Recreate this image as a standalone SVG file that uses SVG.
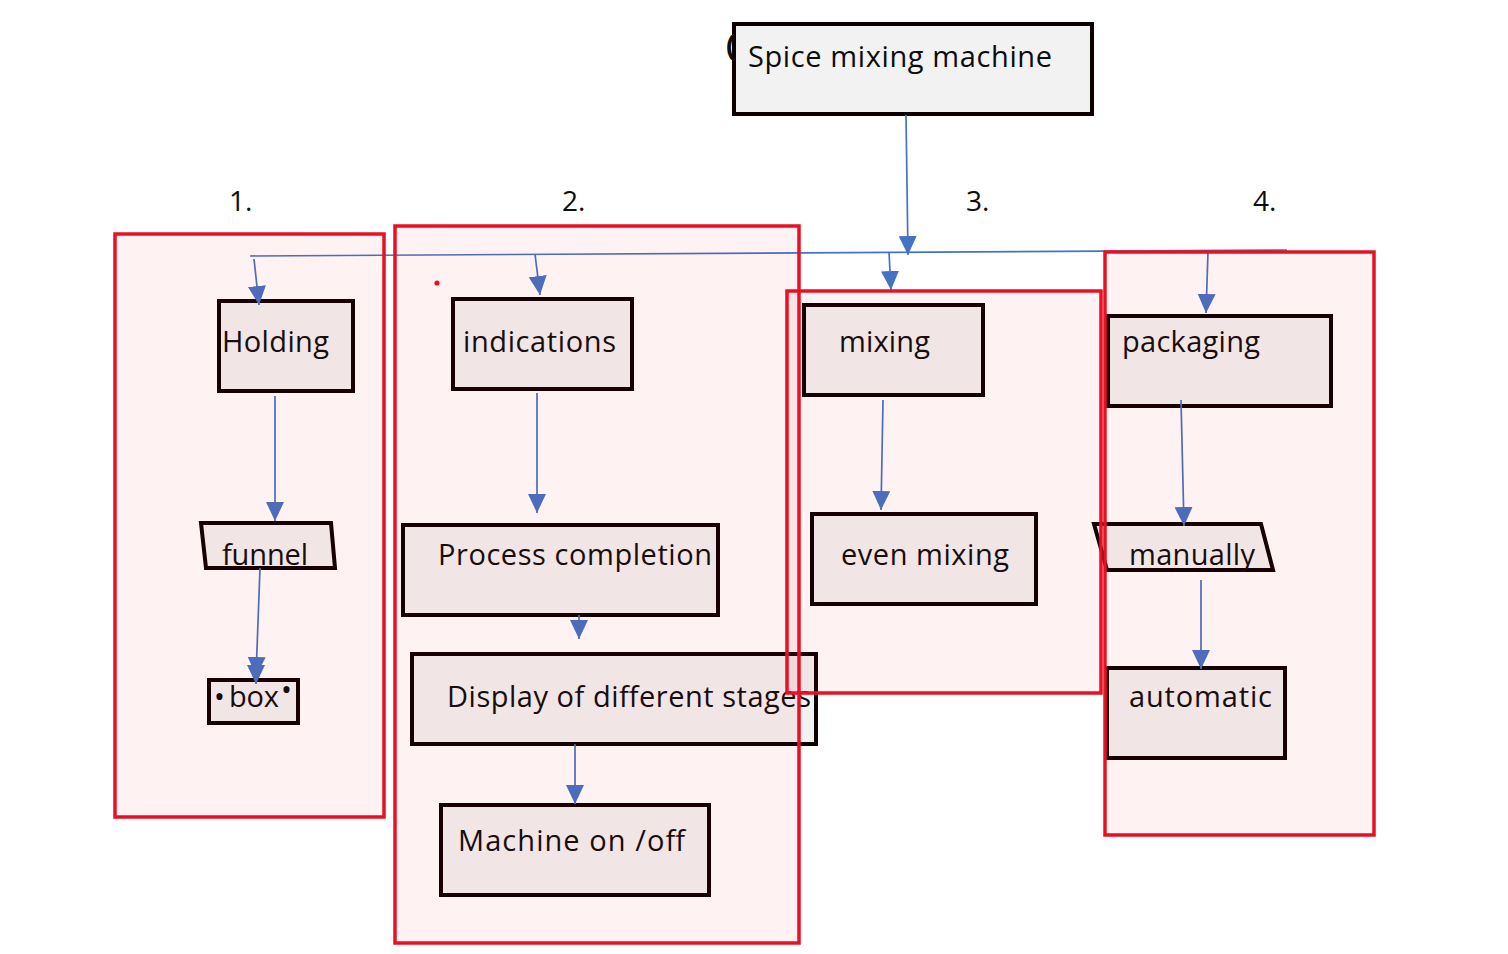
<svg xmlns="http://www.w3.org/2000/svg" width="1508" height="954" viewBox="0 0 1508 954">
<defs>
<style>
.node{fill:#f2f2f2;stroke:#0c0000;stroke-width:4}
.t{font-family:"Open Sans","Noto Sans","Liberation Sans",sans-serif;font-size:29px;fill:#0d0d0d}
.num{font-family:"Open Sans","Noto Sans","Liberation Sans",sans-serif;font-size:28px;fill:#0d0d0d}
.c{fill:none;stroke:#4472c4;stroke-width:1.7}
.frame{fill:#e81123;fill-opacity:0.055;stroke:#e81123;stroke-width:3.5}
</style>
<marker id="ah" markerUnits="userSpaceOnUse" markerWidth="20" markerHeight="20" refX="19" refY="9" orient="auto">
<path d="M0,0 L19,9 L0,18 z" fill="#4472c4"/>
</marker>
</defs>
<rect width="1508" height="954" fill="#ffffff"/>

<g id="labels">
<text class="num" x="229" y="211">1.</text>
<text class="num" x="562" y="211">2.</text>
<text class="num" x="966" y="211">3.</text>
<text class="num" x="1253" y="211">4.</text>
</g>

<g id="spice">
<text class="t" x="726" y="56" font-size="30" font-weight="bold">(</text>
<rect class="node" x="734" y="24" width="358" height="90"/>
<text class="t" x="748" y="67" font-size="30" textLength="304">Spice mixing machine</text>
</g>

<g id="holding">
<rect class="node" x="219" y="301" width="134" height="90"/>
<text class="t" x="222" y="352" textLength="107">Holding</text>
</g>
<g id="funnel">
<polygon class="node" points="201,523 331,523 335,568 206,568"/>
<text class="t" x="222" y="565" textLength="86">funnel</text>
</g>
<g id="box">
<rect class="node" x="209" y="680" width="89" height="43"/>
<text class="t" x="214" y="707">•</text>
<text class="t" x="229" y="707" textLength="50">box</text>
<text class="t" x="281" y="700">•</text>
</g>

<g id="indications">
<rect class="node" x="453" y="299" width="179" height="90"/>
<text class="t" x="463" y="352" textLength="153">indications</text>
</g>
<g id="process">
<rect class="node" x="403" y="525" width="315" height="90"/>
<text class="t" x="438" y="565" textLength="274">Process completion</text>
</g>
<g id="display">
<rect class="node" x="412" y="654" width="404" height="90"/>
<text class="t" x="447" y="707" textLength="364">Display of different stages</text>
</g>
<g id="machine">
<rect class="node" x="441" y="805" width="268" height="90"/>
<text class="t" x="458" y="851" textLength="227">Machine on /off</text>
</g>

<g id="mixing">
<rect class="node" x="804" y="305" width="179" height="90"/>
<text class="t" x="839" y="352" textLength="91">mixing</text>
</g>
<g id="even">
<rect class="node" x="812" y="514" width="224" height="90"/>
<text class="t" x="841" y="565" textLength="168">even mixing</text>
</g>

<g id="packaging">
<rect class="node" x="1108" y="316" width="223" height="90"/>
<text class="t" x="1122" y="352" textLength="138">packaging</text>
</g>
<g id="manually">
<polygon class="node" points="1094,524 1261,524 1273,570 1107,570"/>
<text class="t" x="1129" y="565" textLength="126">manually</text>
</g>
<g id="automatic">
<rect class="node" x="1107" y="668" width="178" height="90"/>
<text class="t" x="1129" y="707" textLength="143">automatic</text>
</g>

<g id="connectors">
<line class="c" x1="906" y1="115" x2="908" y2="255" marker-end="url(#ah)"/>
<line class="c" x1="250" y1="256" x2="1287" y2="250"/>
<line class="c" x1="254" y1="259" x2="259" y2="305" marker-end="url(#ah)"/>
<line class="c" x1="535" y1="254" x2="540" y2="295" marker-end="url(#ah)"/>
<line class="c" x1="889" y1="252" x2="891" y2="290" marker-end="url(#ah)"/>
<line class="c" x1="1208" y1="252" x2="1206" y2="313" marker-end="url(#ah)"/>
<line class="c" x1="275" y1="396" x2="275" y2="521" marker-end="url(#ah)"/>
<line class="c" x1="260" y1="568" x2="256" y2="676" marker-end="url(#ah)"/>
<line class="c" x1="256" y1="660" x2="256" y2="684" marker-end="url(#ah)"/>
<line class="c" x1="537" y1="393" x2="537" y2="513" marker-end="url(#ah)"/>
<line class="c" x1="579" y1="615" x2="579" y2="639" marker-end="url(#ah)"/>
<line class="c" x1="575" y1="744" x2="575" y2="804" marker-end="url(#ah)"/>
<line class="c" x1="883" y1="400" x2="881" y2="510" marker-end="url(#ah)"/>
<line class="c" x1="1181" y1="400" x2="1184" y2="526" marker-end="url(#ah)"/>
<line class="c" x1="1201" y1="580" x2="1201" y2="669" marker-end="url(#ah)"/>
</g>

<g id="frames">
<rect class="frame" x="115" y="234" width="269" height="583"/>
<rect class="frame" x="395" y="226" width="404" height="717"/>
<rect class="frame" x="787" y="291" width="314" height="402"/>
<rect class="frame" x="1105" y="252" width="269" height="583"/>
<circle cx="437" cy="283" r="2.6" fill="#e81123"/>
</g>
</svg>
